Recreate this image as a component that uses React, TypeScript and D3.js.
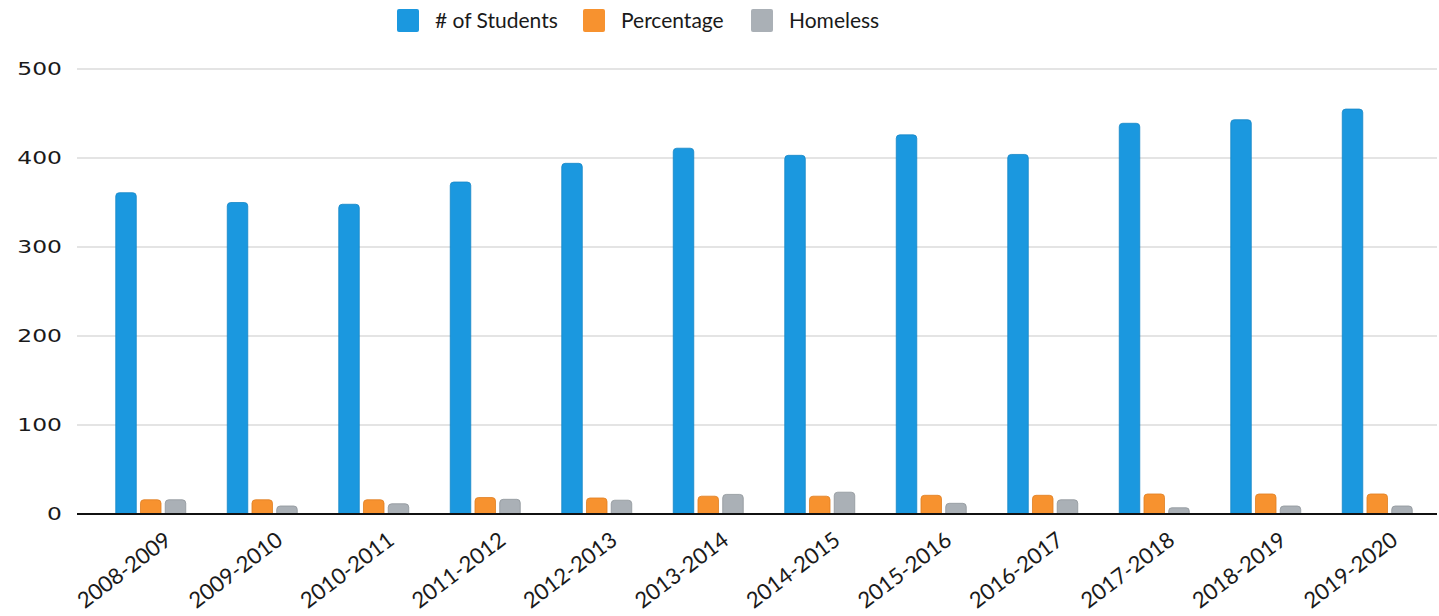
import React from "react";
import * as d3 from "d3";

const categories = ["2008-2009","2009-2010","2010-2011","2011-2012","2012-2013","2013-2014","2014-2015","2015-2016","2016-2017","2017-2018","2018-2019","2019-2020"];
const students = [361, 350, 348, 373, 394, 411, 403, 426, 404, 439, 443, 455];
const percentage = [16, 16, 16, 18.5, 18, 20, 20, 21, 21, 22.5, 22.5, 22.5];
const homeless = [16, 9, 11.5, 16.5, 15.5, 22, 24.5, 12, 16, 7, 9, 9];
const yTicks = [0, 100, 200, 300, 400, 500];
const seriesNames = ["# of Students", "Percentage", "Homeless"];
const seriesColors = ["#1b98df", "#f7922f", "#aab0b6"];
const seriesStroke = ["#1586c6", "#e07f22", "#8f959b"];

const W = 1439, H = 616;

function topRounded(x: number, y: number, w: number, h: number, r: number) {
  const rr = Math.min(r, h / 2, w / 2);
  return `M${x},${y + h}V${y + rr}Q${x},${y} ${x + rr},${y}H${x + w - rr}Q${x + w},${y} ${x + w},${y + rr}V${y + h}Z`;
}

export default function App() {
  const x0 = d3.scaleBand<string>().domain(categories).range([95, 1433]).paddingInner(0).paddingOuter(0);
  const x1 = d3.scaleBand<number>().domain([0, 1, 2]).range([0, 70]).paddingInner(0.17);
  const y = d3.scaleLinear().domain([0, 500]).range([514, 69]);
  const groupW = 70;
  const series = [students, percentage, homeless];

  return (
    <svg width={W} height={H} style={{ position: "absolute", left: 0, top: 0, background: "#fff" }}>
      {yTicks.map((t) => (
        <g key={t}>
          {t > 0 && <line x1={77} x2={1437} y1={y(t)} y2={y(t)} stroke="#c9c9c9" strokeWidth={1.2} />}
          <text transform={`translate(62,${y(t)}) scale(1.3,1)`} dy="0.36em" textAnchor="end" fontFamily="DejaVu Sans" fontSize={18} fill="#1a1a1a">{t}</text>
        </g>
      ))}
      {categories.map((c, i) => {
        const gx = (x0(c) as number) + (x0.bandwidth() - groupW) / 2;
        return (
          <g key={c}>
            {series.map((s, k) => {
              const bx = gx + (x1(k) as number);
              const by = y(s[i]);
              return (
                <path key={k} d={topRounded(bx, by, x1.bandwidth(), y(0) - by, 3.5)} fill={seriesColors[k]} stroke={seriesStroke[k]} strokeWidth={0.8} />
              );
            })}
          </g>
        );
      })}
      <line x1={77} x2={1437} y1={y(0)} y2={y(0)} stroke="#111" strokeWidth={2} />
      {categories.map((c) => {
        const cx = (x0(c) as number) + x0.bandwidth() / 2;
        return (
          <text key={c} transform={`translate(${cx + 22},${543}) rotate(-37)`} textAnchor="end" fontFamily="Lato" fontSize={22} fill="#1a1a1a">{c}</text>
        );
      })}
      {seriesNames.map((n, k) => {
        const lx = [397, 583, 751][k];
        return (
          <g key={n}>
            <rect x={lx} y={9} width={22} height={23} rx={2} fill={seriesColors[k]} />
            <text x={lx + 38} y={20.5} dy="0.36em" fontFamily="Lato" fontSize={21} fill="#1a1a1a">{n}</text>
          </g>
        );
      })}
    </svg>
  );
}
